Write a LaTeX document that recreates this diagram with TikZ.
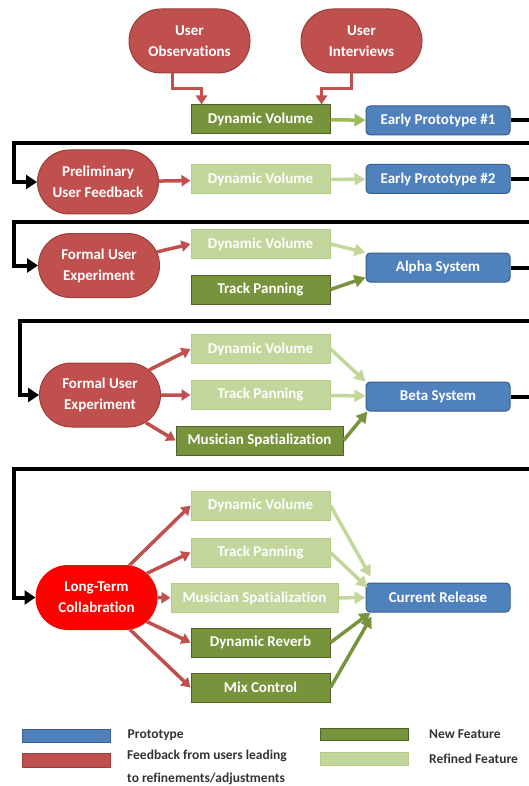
\documentclass[tikz,border=0pt]{standalone}
\usepackage{fontspec}
\setmainfont{Carlito}[Ligatures=NoCommon]
\usetikzlibrary{arrows.meta, positioning, shapes.misc}
\definecolor{fbred}{HTML}{C0504D}
\definecolor{fbredd}{HTML}{9C3D3A}
\definecolor{hotred}{HTML}{FF0000}
\definecolor{protob}{HTML}{4F81BD}
\definecolor{protobd}{HTML}{385D8A}
\definecolor{newg}{HTML}{77933C}
\definecolor{newgd}{HTML}{4F6228}
\definecolor{midg}{HTML}{9BBB59}
\definecolor{refg}{HTML}{C3D69B}
\definecolor{refgd}{HTML}{B3CB85}
\tikzset{
  base/.style={font=\fontsize{15}{21}\selectfont\bfseries, text=white,
               line width=1pt, align=center, inner sep=0pt},
  fbnode/.style={base, rounded rectangle, draw=fbredd, fill=fbred,
                 minimum width=121pt, minimum height=64pt},
  hotnode/.style={fbnode, draw=hotred, fill=hotred},
  newfeat/.style={base, rectangle, draw=newgd, fill=newg,
                  minimum width=139pt, minimum height=29pt},
  reffeat/.style={base, rectangle, draw=refgd, fill=refg,
                  minimum width=139pt, minimum height=29pt},
  proto/.style={base, rectangle, rounded corners=4pt, draw=protobd,
                fill=protob, minimum width=144pt, minimum height=29pt},
  fbarrow/.style={draw=fbred, line width=3.5pt,
                  -{Triangle[length=9pt, width=11pt]}},
  newarrow/.style={draw=newg, line width=3.5pt,
                   -{Triangle[length=11pt, width=12pt]}},
  midarrow/.style={newarrow, draw=midg},
  refarrow/.style={newarrow, draw=refg},
  loopline/.style={draw=black, line width=4pt,
                   -{Triangle[length=11pt, width=14pt]}},
  edgeline/.style={draw=black, line width=4pt},
  legbox/.style={rectangle, line width=1pt, inner sep=0pt,
                 minimum width=88pt, minimum height=13pt},
  legtext/.style={font=\fontsize{13.5}{23}\selectfont\bfseries,
                  text=black!80, align=left, inner sep=0pt},
}
\begin{document}
\begin{tikzpicture}[x=1pt, y=-1pt]
  \useasboundingbox (0,0) rectangle (528,786);

  % first prototype
  \node[fbnode] (uobs) at (189.5,41) {User\\Observations};
  \node[fbnode] (uint) at (361.5,41) {User\\Interviews};
  \node[newfeat] (dv1) at (260.5,119.5) {Dynamic Volume};
  \node[proto] (ep1) at (438,120.5) {Early Prototype \#1};
  \draw[fbarrow] ([xshift=-17pt]uobs.south) -- ++(0,15)
    -| ([xshift=-59pt]dv1.north);
  \draw[fbarrow] ([xshift=-10pt]uint.south) -- ++(0,15)
    -| ([xshift=61pt]dv1.north);
  \draw[midarrow] (dv1) -- (ep1);
  \coordinate (r1) at (535,120.5);
  \draw[edgeline] (ep1) -- (r1);

  % second prototype
  \node[fbnode] (prelim) at (98,182) {Preliminary\\User Feedback};
  \node[reffeat] (dv2) at (260.5,179.5) {Dynamic Volume};
  \node[proto] (ep2) at (438,179) {Early Prototype \#2};
  \coordinate (l1) at (535,143);
  \draw[loopline] (l1) -- (14,143) |- (prelim.west);
  \draw[fbarrow] (prelim) -- (dv2);
  \draw[refarrow] (dv2) -- (ep2);
  \coordinate (r2) at (535,179);
  \draw[edgeline] (ep2) -- (r2);

  % alpha
  \node[fbnode] (fue1) at (99,265.5) {Formal User\\Experiment};
  \node[reffeat] (dv3) at (260.5,244) {Dynamic Volume};
  \node[newfeat] (tp3) at (260.5,289.5) {Track Panning};
  \node[proto] (alpha) at (438,267.5) {Alpha System};
  \coordinate (l2) at (535,222);
  \draw[loopline] (l2) -- (14,222) |- (fue1.west);
  \draw[fbarrow] (fue1) -- (dv3.west);
  \draw[refarrow] (dv3.east) -- (alpha.north west);
  \draw[newarrow] (tp3.east) -- ([yshift=5pt]alpha.south west);
  \coordinate (r3) at (535,267.5);
  \draw[edgeline] (alpha) -- (r3);

  % beta
  \node[fbnode] (fue2) at (100,395) {Formal User\\Experiment};
  \node[reffeat] (dv4) at (260.5,349) {Dynamic Volume};
  \node[reffeat] (tp4) at (260.5,395) {Track Panning};
  \node[newfeat, minimum width=167pt] (ms4) at (259.5,440.5)
    {Musician Spatialization};
  \node[proto] (beta) at (438,396.5) {Beta System};
  \coordinate (l3) at (535,321);
  \draw[loopline] (l3) -- (20,321) |- (fue2.west);
  \draw[fbarrow] (fue2) -- (dv4.west);
  \draw[fbarrow] (fue2) -- (tp4);
  \draw[fbarrow] (fue2) -- (ms4.west);
  \draw[refarrow] (dv4.east) -- (beta.north west);
  \draw[refarrow] (tp4) -- (beta);
  \draw[newarrow] (ms4.east) -- ([xshift=2pt]beta.south west);
  \coordinate (r4) at (535,396.5);
  \draw[edgeline] (beta) -- (r4);

  % current release
  \node[hotnode] (ltc) at (96.5,597.5) {Long-Term\\Collabration};
  \node[reffeat] (dv5) at (260.5,505.5) {Dynamic Volume};
  \node[reffeat] (tp5) at (260.5,552.5) {Track Panning};
  \node[reffeat, minimum width=167pt] (ms5) at (254.5,598)
    {Musician Spatialization};
  \node[newfeat] (dr5) at (260.5,642.5) {Dynamic Reverb};
  \node[newfeat] (mc5) at (260.5,687.5) {Mix Control};
  \node[proto] (cr) at (438,597.5) {Current Release};
  \coordinate (l4) at (535,469);
  \draw[loopline] (l4) -- (14,469) |- (ltc.west);
  \foreach \f in {dv5, tp5, dr5, mc5}
    \draw[fbarrow] (ltc) -- (\f.west);
  \draw[fbarrow] (ltc) -- (ms5);
  \draw[refarrow] (dv5.east) -- ([xshift=5pt, yshift=6pt]cr.north west);
  \draw[refarrow] (tp5.east) -- ([xshift=2pt, yshift=10pt]cr.west);
  \draw[refarrow] (ms5) -- (cr);
  \draw[newarrow] (dr5.east) -- ([xshift=5pt]cr.south west);
  \draw[newarrow] (mc5.east) -- ([xshift=6pt, yshift=-4pt]cr.south west);

  % legend
  \node[legbox, draw=protobd, fill=protob] (lgproto) at (66,735.5) {};
  \node[legbox, draw=fbredd, fill=fbred, minimum height=14pt] (lgfb)
    at (66,760) {};
  \node[legbox, draw=newgd, fill=newg, minimum height=12pt] (lgnew)
    at (364.5,734) {};
  \node[legbox, draw=refgd, fill=refg] (lgref) at (364.5,758.5) {};
  \node[legtext, right=17pt of lgproto] (txproto) {Prototype};
  \node[legtext, anchor=north west] (txfb) at (127,750)
    {Feedback from users leading\\to refinements/adjustments};
  \node[legtext, right=20pt of lgnew] (txnew) {New Feature};
  \node[legtext, right=20pt of lgref] (txref) {Refined Feature};
\end{tikzpicture}
\end{document}
